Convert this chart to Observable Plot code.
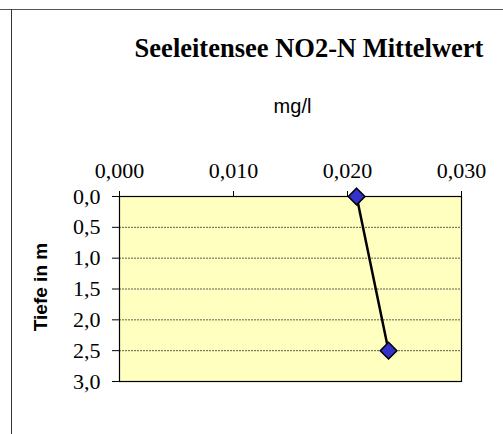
<!DOCTYPE html>
<html>
<head>
<meta charset="utf-8">
<script src="https://cdn.jsdelivr.net/npm/d3@7"></script>
<script src="https://cdn.jsdelivr.net/npm/@observablehq/plot@0.6"></script>
<style>
  html, body { margin: 0; padding: 0; background: #fff; }
  #wrap { position: relative; width: 503px; height: 434px; overflow: hidden; }
  #wrap svg { position: absolute; left: 0; top: 0; }
  .topline { position: absolute; left: 0; top: 9px; width: 503px; height: 0; border-top: 1px solid #555; }
  .leftline { position: absolute; left: 11px; top: 9px; width: 0; height: 425px; border-left: 1px solid #333; }
  .title { position: absolute; left: 309px; top: 33px; transform: translateX(-50%); white-space: nowrap; line-height: 1;
           font: bold 26.5px "Liberation Serif", "Times New Roman", serif; color: #000; }
  .sub { position: absolute; left: 292.5px; top: 95px; transform: translateX(-50%); white-space: nowrap; line-height: 1;
         font: 20px "Liberation Sans", Arial, sans-serif; color: #000; }
  .ylab { position: absolute; left: 41px; top: 287px; transform: translate(-50%, -50%) rotate(-90deg); white-space: nowrap; line-height: 1;
          font: bold 19px "Liberation Sans", Arial, sans-serif; color: #000; }
</style>
</head>
<body>
<div id="wrap">
  <div class="topline"></div>
  <div class="leftline"></div>
  <div class="title">Seeleitensee NO2-N Mittelwert</div>
  <div class="sub">mg/l</div>
  <div class="ylab">Tiefe in m</div>
</div>
<script>
const depths = [0, 2.5];
const values = [0.0208, 0.0236];
const xTicks = [0, 0.01, 0.02, 0.03];
const yTicks = [0, 0.5, 1, 1.5, 2, 2.5, 3];
const gridLines = [0.5, 1, 1.5, 2, 2.5];

const data = depths.map((d, i) => ({depth: d, value: values[i]}));
const comma = (digits) => (v) => v.toFixed(digits).replace(".", ",");

const chart = Plot.plot({
  width: 503,
  height: 434,
  marginLeft: 119,
  marginRight: 42,
  marginTop: 196,
  marginBottom: 53,
  style: {fontFamily: "'Liberation Serif', 'Times New Roman', serif", fontSize: "22px", background: "transparent", color: "#000"},
  x: {domain: [0, 0.03], axis: null},
  y: {domain: [0, 3], reverse: true, axis: null},
  marks: [
    Plot.frame({fill: "#ffffc0", stroke: null}),
    Plot.ruleY(gridLines, {stroke: "#333", strokeWidth: 0.8, strokeDasharray: "2,1"}),
    Plot.axisX(xTicks, {anchor: "top", tickFormat: comma(3), tickSize: 6, tickPadding: 13, label: null, stroke: "#000", fontSize: 22}),
    Plot.axisY(yTicks, {anchor: "left", tickFormat: comma(1), tickSize: 7, tickPadding: 12, label: null, stroke: "#000", fontSize: 22}),
    Plot.frame({stroke: "#000", strokeWidth: 1.2}),
    Plot.line(data, {x: "value", y: "depth", stroke: "#000", strokeWidth: 2.5}),
    Plot.dot(data, {x: "value", y: "depth", symbol: "diamond2", r: 7.5, fill: "#3333cc", stroke: "#000", strokeWidth: 1.5})
  ]
});
document.getElementById("wrap").prepend(chart);
</script>
</body>
</html>
